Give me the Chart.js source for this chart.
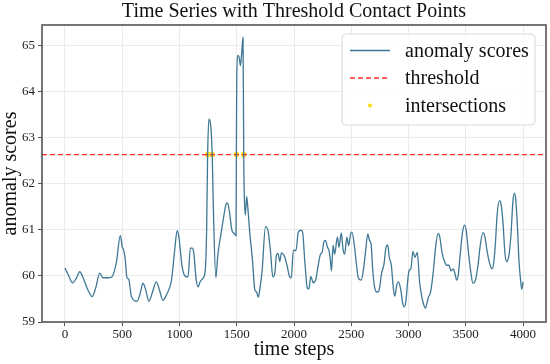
<!DOCTYPE html>
<html>
<head>
<meta charset="utf-8">
<script src="https://cdn.jsdelivr.net/npm/chart.js@4.4.1/dist/chart.umd.min.js"></script>
<style>
  html, body { margin: 0; padding: 0; background: #fff; }
  #wrap { width: 550px; height: 364px; }
</style>
</head>
<body>
<div id="wrap"><canvas id="chart1"></canvas></div>
<script>
// values
const steps = [0, 30, 67, 100, 130, 160, 200, 238, 270, 304, 333, 370, 406, 449, 484, 501, 510, 525, 542, 557,
  580, 629, 655, 681, 705, 733, 765, 797, 825, 855, 885, 913, 930, 942, 960, 980, 995, 1010, 1023, 1052,
  1075, 1095, 1110, 1124, 1145, 1162, 1182, 1202, 1225, 1237, 1246, 1257, 1269, 1277, 1286, 1298, 1318, 1335, 1361, 1384,
  1405, 1419, 1436, 1457, 1477, 1494, 1497, 1500, 1512, 1523, 1532, 1543, 1555, 1561, 1566, 1575, 1587, 1595, 1613, 1636,
  1659, 1673, 1688, 1702, 1722, 1751, 1775, 1795, 1815, 1832, 1847, 1861, 1876, 1890, 1919, 1939, 1962, 1977, 1994, 2017,
  2038, 2061, 2075, 2095, 2116, 2130, 2147, 2168, 2191, 2211, 2231, 2246, 2260, 2275, 2292, 2306, 2318, 2327, 2341, 2355,
  2379, 2393, 2413, 2428, 2442, 2462, 2477, 2494, 2506, 2529, 2543, 2564, 2587, 2607, 2624, 2644, 2659, 2673, 2688, 2702,
  2723, 2740, 2766, 2786, 2803, 2818, 2832, 2850, 2867, 2879, 2899, 2913, 2934, 2948, 2962, 2977, 2991, 3005, 3020, 3038,
  3056, 3076, 3097, 3118, 3132, 3147, 3171, 3194, 3215, 3238, 3259, 3273, 3294, 3312, 3332, 3353, 3370, 3391, 3406, 3420,
  3435, 3450, 3470, 3488, 3503, 3523, 3544, 3562, 3582, 3606, 3626, 3650, 3664, 3685, 3706, 3729, 3744, 3759, 3773, 3794,
  3809, 3826, 3841, 3856, 3876, 3894, 3911, 3923, 3935, 3953, 3964, 3979, 3988, 4000];
const scores = [60.17, 60.02, 59.85, 59.95, 60.09, 59.95, 59.70, 59.55, 59.75, 60.06, 59.96, 59.96, 59.97, 60.29, 60.88, 60.62, 60.58, 60.40, 59.96, 59.93,
  59.56, 59.45, 59.60, 59.84, 59.70, 59.45, 59.65, 59.87, 59.70, 59.47, 59.58, 59.74, 59.90, 60.15, 60.60, 60.98, 60.85, 60.50, 60.20, 59.99,
  59.98, 60.60, 60.60, 60.52, 59.94, 59.76, 59.88, 59.94, 60.12, 60.96, 62.63, 63.40, 63.33, 63.14, 62.63, 61.25, 59.96, 60.45, 60.89, 61.25,
  61.54, 61.58, 61.40, 61.00, 60.92, 60.87, 62.63, 64.27, 64.78, 64.71, 64.56, 64.82, 65.17, 62.63, 61.76, 61.32, 61.72, 61.54, 60.96, 60.38,
  59.69, 59.65, 59.54, 59.72, 60.12, 61.07, 60.96, 60.52, 59.98, 60.05, 60.45, 60.49, 60.31, 60.50, 60.41, 60.23, 59.98, 59.96, 60.56, 60.55,
  60.95, 60.99, 60.95, 60.29, 59.74, 59.72, 59.99, 59.85, 59.93, 60.22, 60.47, 60.51, 60.73, 60.77, 60.62, 60.55, 60.33, 60.11, 60.66, 60.47,
  60.84, 60.62, 60.93, 60.58, 60.47, 60.84, 60.66, 60.91, 60.95, 60.62, 60.29, 59.94, 59.91, 60.15, 60.51, 60.91, 60.77, 60.69, 60.11, 59.78,
  59.65, 59.67, 60.07, 60.26, 60.62, 60.67, 60.40, 60.22, 59.74, 59.56, 59.82, 59.87, 59.67, 59.42, 59.33, 59.45, 59.85, 60.12, 60.15, 60.53,
  60.40, 60.51, 59.85, 59.52, 59.38, 59.30, 59.52, 59.67, 60.07, 60.66, 60.92, 60.84, 60.48, 60.33, 60.23, 60.23, 60.11, 60.15, 60.04, 59.91,
  60.04, 60.44, 60.92, 61.10, 60.99, 60.51, 60.07, 59.84, 59.89, 60.22, 60.66, 60.94, 60.88, 60.55, 60.29, 60.15, 60.29, 60.73, 61.32, 61.63,
  61.54, 61.10, 60.51, 60.31, 60.44, 60.88, 61.61, 61.79, 61.68, 60.95, 60.33, 59.89, 59.71, 59.87];
const threshold = 62.63;
const crossSteps = [1246, 1286, 1497, 1561];
const xTicks = [0, 500, 1000, 1500, 2000, 2500, 3000, 3500, 4000];
const yTicks = [59, 60, 61, 62, 63, 64, 65];
const xMin = -200, xMax = 4200;
const yMin = 59, yMax = 65.44;

const serif = "'Liberation Serif', 'DejaVu Serif', serif";

// frame round the plot area
const frame = {
    id: 'frame',
    afterDatasetsDraw(chart) {
        const a = chart.chartArea, ctx = chart.ctx;
        ctx.save();
        ctx.strokeStyle = '#555';
        ctx.lineWidth = 1.6;
        ctx.strokeRect(a.left, a.top, a.right - a.left, a.bottom - a.top);
        ctx.restore();
    }
};

// matplotlib-like legend in the upper right corner
const legendBox = {
    id: 'legendBox',
    afterDraw(chart) {
        const a = chart.chartArea, ctx = chart.ctx;
        const w = 193, h = 91;
        const x = a.right - w - 11, y = a.top + 9;
        ctx.save();
        ctx.beginPath();
        ctx.roundRect(x, y, w, h, 4);
        ctx.fillStyle = 'rgba(255,255,255,0.85)';
        ctx.fill();
        ctx.strokeStyle = '#d8d8d8';
        ctx.lineWidth = 1;
        ctx.stroke();
        ctx.font = '20px ' + serif;
        ctx.textBaseline = 'middle';
        chart.data.datasets.forEach(function(ds, i) {
            const ry = y + 16.5 + i * 27.5;
            if (ds.showLine === false) {
                ctx.beginPath();
                ctx.arc(x + 28, ry, 2, 0, Math.PI * 2);
                ctx.fillStyle = ds.backgroundColor;
                ctx.fill();
            } else {
                ctx.beginPath();
                ctx.setLineDash(ds.borderDash || []);
                ctx.strokeStyle = ds.borderColor;
                ctx.lineWidth = ds.borderWidth;
                ctx.moveTo(x + 8, ry);
                ctx.lineTo(x + 48, ry);
                ctx.stroke();
                ctx.setLineDash([]);
            }
            ctx.fillStyle = '#111';
            ctx.fillText(ds.label, x + 63, ry + 1);
        });
        ctx.restore();
    }
};

function plain(value) {
    return String(value);
}

document.addEventListener("DOMContentLoaded", function() {
    const ctx1 = document.getElementById('chart1').getContext('2d');
    new Chart(ctx1, {
        type: 'line',
        data: {
            datasets: [{
                label: 'anomaly scores',
                data: steps.map(function(s, i) { return {x: s, y: scores[i]}; }),
                borderColor: '#3f7895',
                borderWidth: 1.3,
                pointRadius: 0,
                cubicInterpolationMode: 'monotone'
            }, {
                label: 'threshold',
                data: [{x: xMin, y: threshold}, {x: xMax, y: threshold}],
                borderColor: '#ff2a2a',
                borderWidth: 1.3,
                borderDash: [5, 3],
                pointRadius: 0
            }, {
                label: 'intersections',
                type: 'scatter',
                showLine: false,
                data: crossSteps.map(function(s) { return {x: s, y: threshold}; }),
                backgroundColor: '#ffdc1a',
                borderWidth: 0,
                pointRadius: 2.8
            }]
        },
        options: {
            responsive: true,
            maintainAspectRatio: false,
            animation: false,
            layout: { padding: { left: 0, right: 4, top: 0, bottom: 0 } },
            plugins: {
                legend: { display: false },
                tooltip: { enabled: false },
                title: {
                    display: true,
                    fullSize: false,
                    text: 'Time Series with Threshold Contact Points',
                    color: '#111',
                    font: { family: serif, size: 20, weight: 'normal' },
                    padding: { top: 0, bottom: 1 }
                }
            },
            scales: {
                x: {
                    type: 'linear',
                    min: xMin,
                    max: xMax,
                    afterBuildTicks: function(scale) {
                        scale.ticks = xTicks.map(function(v) { return {value: v}; });
                    },
                    afterFit: function(scale) { scale.height = 42; },
                    grid: { color: '#ebebeb', tickColor: '#555', tickLength: 4 },
                    border: { display: false },
                    ticks: {
                        color: '#222',
                        font: { family: serif, size: 13 },
                        padding: 1,
                        maxRotation: 0,
                        callback: plain
                    },
                    title: {
                        display: true,
                        text: 'time steps',
                        color: '#111',
                        font: { family: serif, size: 20, lineHeight: 1.0 },
                        padding: { top: 0, bottom: 4 }
                    }
                },
                y: {
                    min: yMin,
                    max: yMax,
                    afterBuildTicks: function(scale) {
                        scale.ticks = yTicks.map(function(v) { return {value: v}; });
                    },
                    afterFit: function(scale) { scale.width = 42; },
                    grid: { color: '#ebebeb', tickColor: '#555', tickLength: 4 },
                    border: { display: false },
                    ticks: {
                        color: '#222',
                        font: { family: serif, size: 13 },
                        padding: 3,
                        callback: plain
                    },
                    title: {
                        display: true,
                        text: 'anomaly scores',
                        color: '#111',
                        font: { family: serif, size: 20, lineHeight: 1.0 },
                        padding: { top: 1, bottom: 0 }
                    }
                }
            }
        },
        plugins: [frame, legendBox]
    });
});
</script>
</body>
</html>
